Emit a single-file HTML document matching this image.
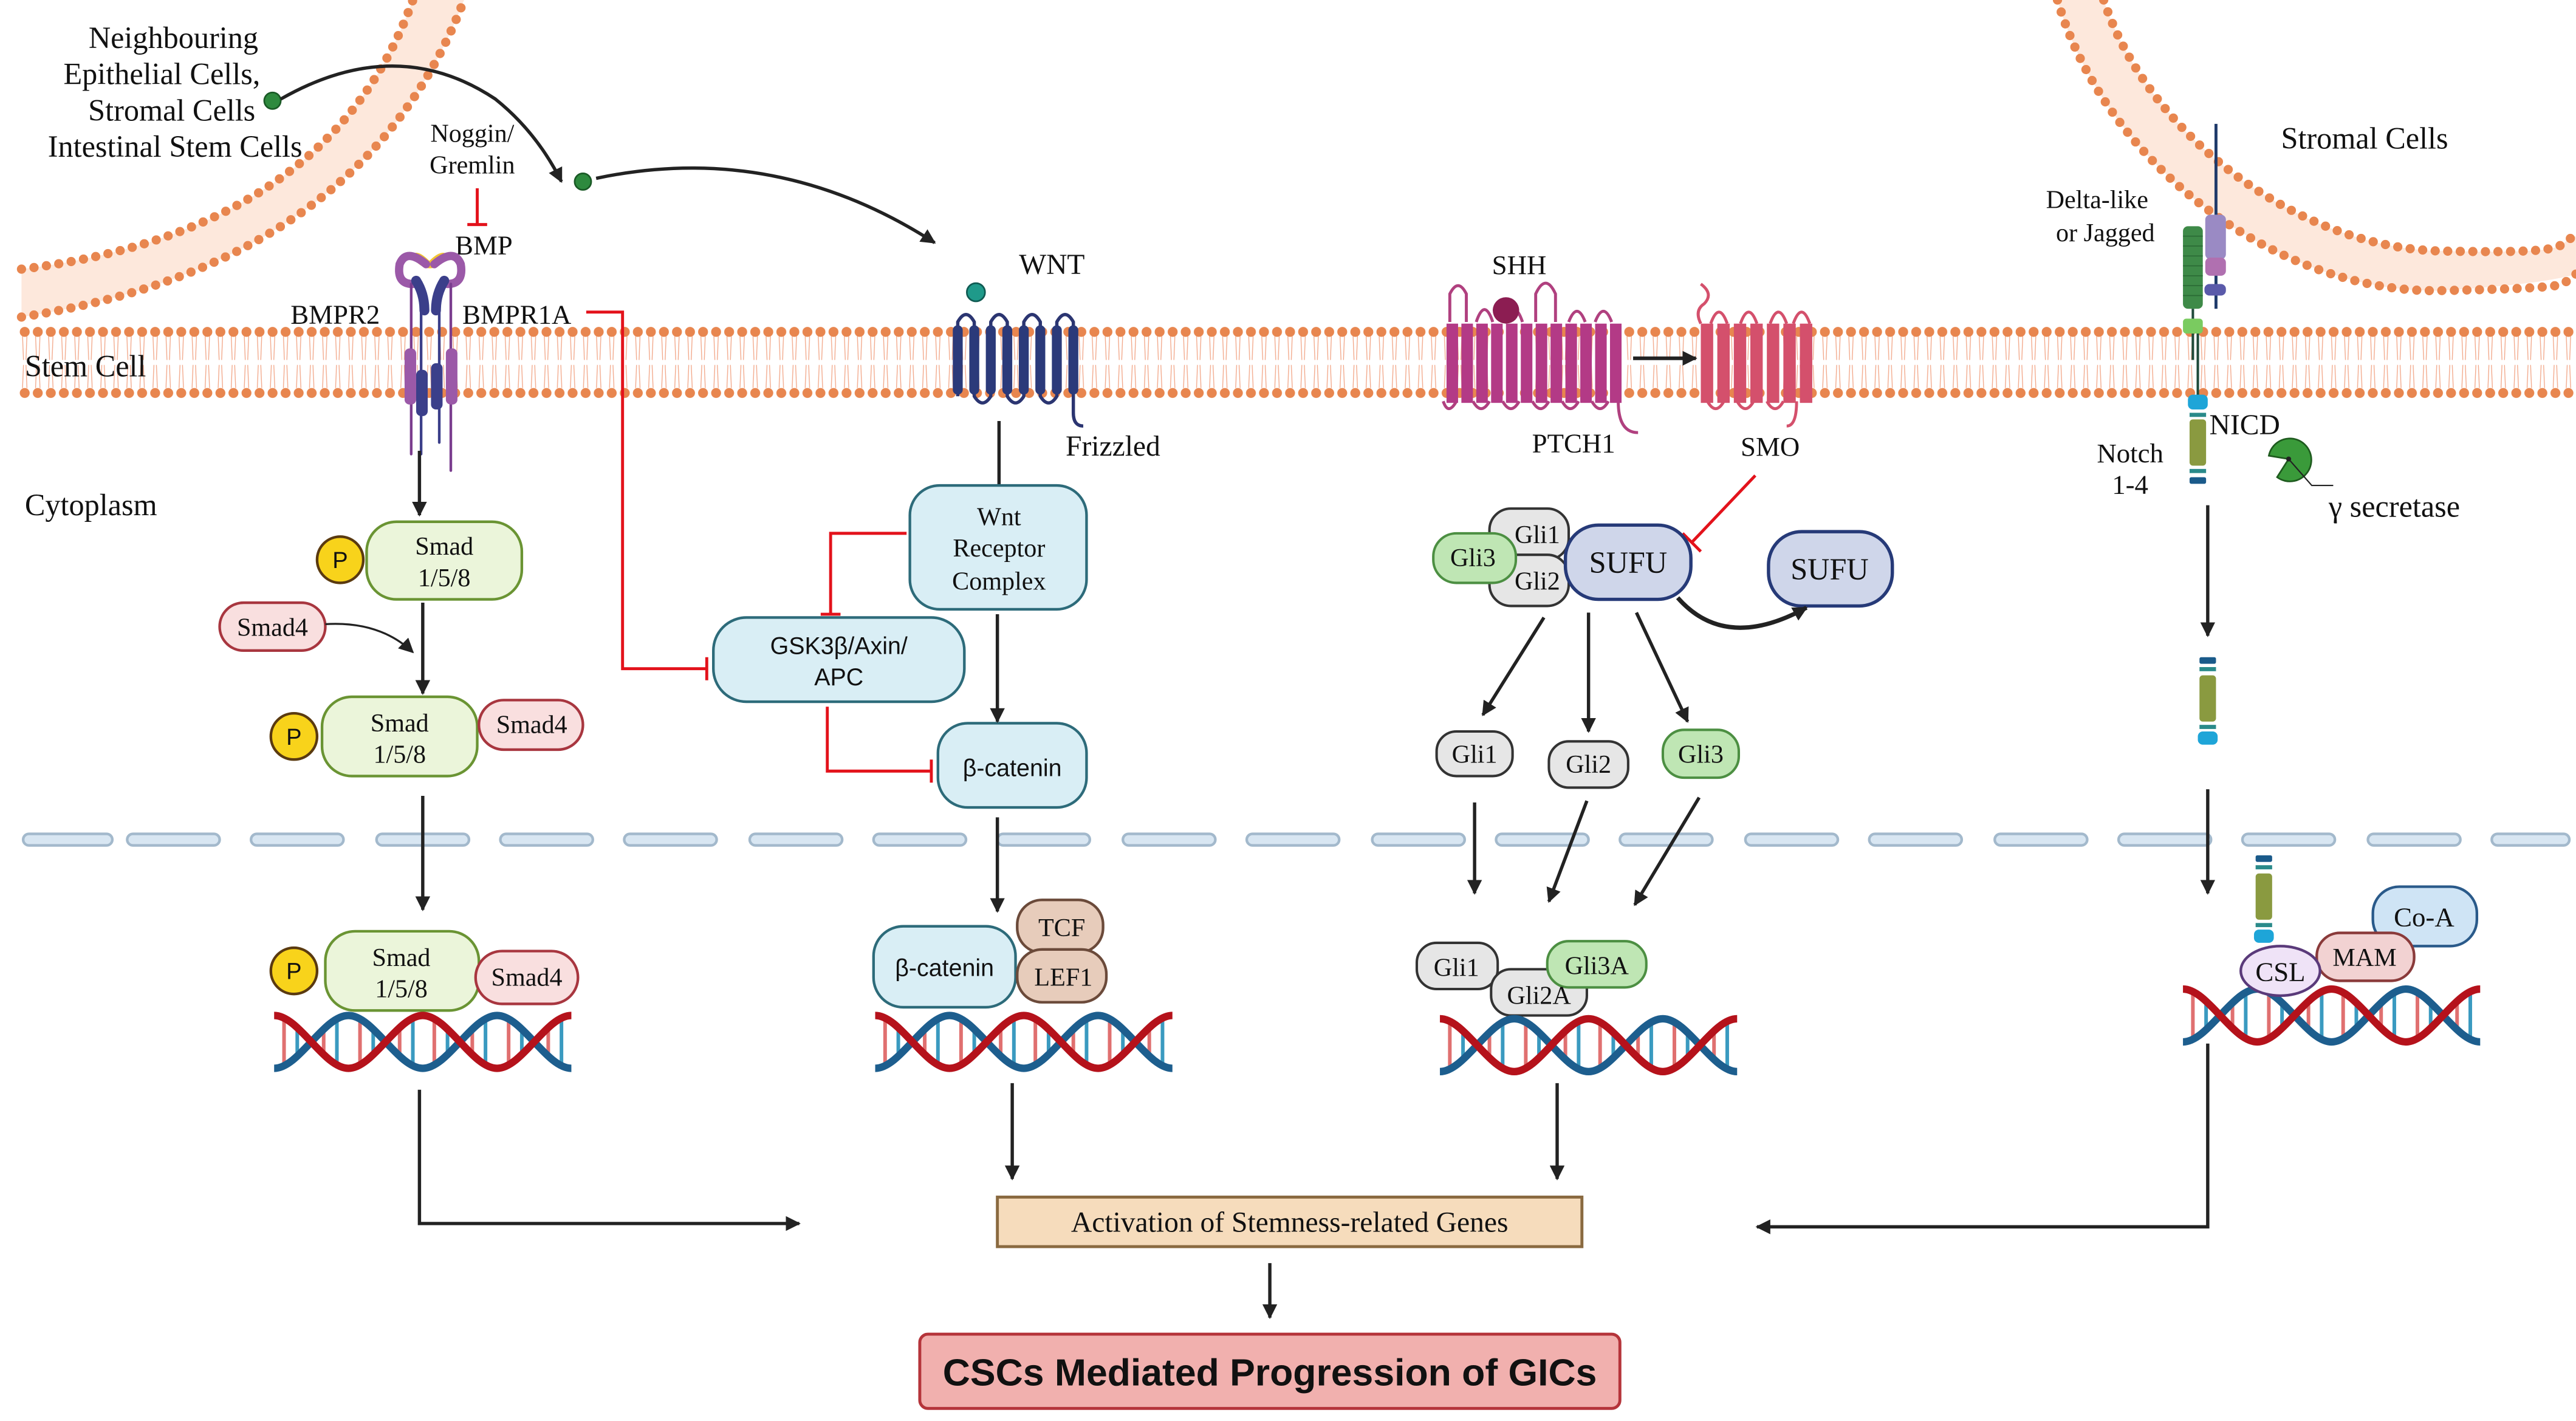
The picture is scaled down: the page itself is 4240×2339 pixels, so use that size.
<!DOCTYPE html>
<html><head><meta charset="utf-8"><style>
html,body{margin:0;padding:0;background:#fff;}
svg{display:block;}
text{font-family:"Liberation Serif",serif;fill:#111;}
.s{font-family:"Liberation Sans",sans-serif;}
</style></head><body>
<svg width="4240" height="2339" viewBox="0 0 1560 860.6" xmlns="http://www.w3.org/2000/svg">
<defs>
<marker id="ah" viewBox="0 0 10 10" refX="9" refY="5" markerWidth="9" markerHeight="9" markerUnits="userSpaceOnUse" orient="auto"><path d="M0,0 L10,5 L0,10 z" fill="#222"/></marker>
<pattern id="mem" patternUnits="userSpaceOnUse" x="11" y="195" width="7.9" height="50">
<line x1="2.6" y1="8" x2="3.2" y2="23" stroke="#f2a88a" stroke-width="0.5"/><line x1="5.3" y1="8" x2="4.7" y2="23" stroke="#f2a88a" stroke-width="0.5"/>
<line x1="2.6" y1="40" x2="3.2" y2="26" stroke="#f2a88a" stroke-width="0.5"/><line x1="5.3" y1="40" x2="4.7" y2="26" stroke="#f2a88a" stroke-width="0.5"/>
<circle cx="3.95" cy="6" r="3" fill="#e8864f"/><circle cx="3.95" cy="43" r="3" fill="#e8864f"/>
</pattern>
<g id="dna">
<g stroke-width="2.2">
<line x1="6" y1="6" x2="6" y2="32" stroke="#e07070"/><line x1="14" y1="10" x2="14" y2="28" stroke="#3a9ac0"/>
<line x1="30" y1="10" x2="30" y2="28" stroke="#e07070"/><line x1="38" y1="6" x2="38" y2="32" stroke="#3a9ac0"/>
<line x1="52" y1="6" x2="52" y2="32" stroke="#e07070"/><line x1="60" y1="10" x2="60" y2="28" stroke="#3a9ac0"/>
<line x1="76" y1="10" x2="76" y2="28" stroke="#e07070"/><line x1="84" y1="6" x2="84" y2="32" stroke="#3a9ac0"/>
<line x1="97" y1="6" x2="97" y2="32" stroke="#e07070"/><line x1="105" y1="10" x2="105" y2="28" stroke="#3a9ac0"/>
<line x1="120" y1="10" x2="120" y2="28" stroke="#e07070"/><line x1="128" y1="6" x2="128" y2="32" stroke="#3a9ac0"/>
<line x1="142" y1="6" x2="142" y2="32" stroke="#e07070"/><line x1="150" y1="10" x2="150" y2="28" stroke="#3a9ac0"/>
<line x1="166" y1="10" x2="166" y2="28" stroke="#e07070"/><line x1="174" y1="6" x2="174" y2="32" stroke="#3a9ac0"/>
</g>
<path d="M0,35 C15,35 30,3 45,3 C60,3 75,35 90,35 C105,35 120,3 135,3 C150,3 165,35 180,35" fill="none" stroke="#1d5e8e" stroke-width="4.5"/>
<path d="M0,3 C15,3 30,35 45,35 C60,35 75,3 90,3 C105,3 120,35 135,35 C150,35 165,3 180,3" fill="none" stroke="#b5121b" stroke-width="4.5"/>
</g>
</defs>

<!-- curved membranes -->
<path d="M13,163 Q200,140 250,0 L281,0 Q220,160 13,192 Z" fill="#fde8dc"/>
<path d="M13,163 Q200,140 250,0" fill="none" stroke="#e8864f" stroke-width="5.6" stroke-linecap="round" stroke-dasharray="0 7.6"/>
<path d="M13,192 Q220,160 281,0" fill="none" stroke="#e8864f" stroke-width="5.6" stroke-linecap="round" stroke-dasharray="0 7.6"/>
<path d="M1274,0 C1300,80 1390,150 1478,152 S1545,148 1560,143 L1560,166 S1545,172 1478,176 C1380,178 1275,100 1246,0 Z" fill="#fde8dc"/>
<path d="M1274,0 C1300,80 1390,150 1478,152 S1545,148 1560,143" fill="none" stroke="#e8864f" stroke-width="5.6" stroke-linecap="round" stroke-dasharray="0 7.6"/>
<path d="M1246,0 C1275,100 1380,178 1478,176 S1545,172 1560,166" fill="none" stroke="#e8864f" stroke-width="5.6" stroke-linecap="round" stroke-dasharray="0 7.6"/>

<!-- stem membrane -->
<rect x="11" y="195" width="1548" height="50" fill="url(#mem)"/>

<!-- nuclear membrane -->
<g fill="#d8e6f2" stroke="#a3b9cc" stroke-width="1.6">
<rect x="14" y="505" width="54" height="7" rx="3.5"/><rect x="77" y="505" width="56" height="7" rx="3.5"/><rect x="152" y="505" width="56" height="7" rx="3.5"/><rect x="228" y="505" width="56" height="7" rx="3.5"/><rect x="303" y="505" width="56" height="7" rx="3.5"/><rect x="378" y="505" width="56" height="7" rx="3.5"/><rect x="454" y="505" width="56" height="7" rx="3.5"/><rect x="529" y="505" width="56" height="7" rx="3.5"/><rect x="604" y="505" width="56" height="7" rx="3.5"/><rect x="680" y="505" width="56" height="7" rx="3.5"/><rect x="755" y="505" width="56" height="7" rx="3.5"/><rect x="831" y="505" width="56" height="7" rx="3.5"/><rect x="906" y="505" width="56" height="7" rx="3.5"/><rect x="981" y="505" width="56" height="7" rx="3.5"/><rect x="1057" y="505" width="56" height="7" rx="3.5"/><rect x="1132" y="505" width="56" height="7" rx="3.5"/><rect x="1208" y="505" width="56" height="7" rx="3.5"/><rect x="1283" y="505" width="56" height="7" rx="3.5"/><rect x="1358" y="505" width="56" height="7" rx="3.5"/><rect x="1434" y="505" width="56" height="7" rx="3.5"/><rect x="1509" y="505" width="47" height="7" rx="3.5"/>
</g>

<!-- labels top-left -->
<g font-size="18.5" text-anchor="middle">
<text x="105" y="29">Neighbouring</text>
<text x="98" y="51">Epithelial Cells,</text>
<text x="104" y="73">Stromal Cells</text>
<text x="106" y="95">Intestinal Stem Cells</text>
</g>
<text x="15" y="228" font-size="18.5">Stem Cell</text>
<text x="15" y="312" font-size="18.5">Cytoplasm</text>

<!-- ligand arrows -->
<circle cx="165" cy="61" r="5" fill="#2e8a3e" stroke="#1a5a26" stroke-width="1"/>
<path d="M170,60 Q240,20 300,60 Q325,80 340,110" fill="none" stroke="#222" stroke-width="2" marker-end="url(#ah)"/>
<circle cx="353" cy="110" r="5" fill="#2e8a3e" stroke="#1a5a26" stroke-width="1"/>
<path d="M361,108 Q470,85 566,147" fill="none" stroke="#222" stroke-width="2" marker-end="url(#ah)"/>

<text x="286" y="86" font-size="15.5" text-anchor="middle">Noggin/</text>
<text x="286" y="105" font-size="15.5" text-anchor="middle">Gremlin</text>
<path d="M289,114 L289,136 M283,136 L295,136" stroke="#e3121b" stroke-width="1.8" fill="none"/>
<text x="293" y="154" font-size="16.5" text-anchor="middle">BMP</text>
<path d="M249,155 Q260,170 272,155 Q268,150 260,158 Q252,150 249,155 Z" fill="#f2c531"/>

<!-- BMP receptors -->
<g fill="none" stroke-linecap="round">
<path d="M258,160 Q246,150 242,160 Q240,172 250,172" stroke="#9b59a8" stroke-width="5"/>
<path d="M263,160 Q275,150 279,160 Q281,172 271,172" stroke="#9b59a8" stroke-width="5"/>
<path d="M249,172 L249,275 M273,172 L273,285" stroke="#7a3d8e" stroke-width="1.6"/>
<path d="M255,172 L255,275 M266,172 L266,268" stroke="#3b3f8a" stroke-width="1.6"/>
<path d="M252,170 Q257,178 257,188" stroke="#3b3f8a" stroke-width="6"/>
<path d="M269,170 Q264,178 264,188" stroke="#3b3f8a" stroke-width="6"/>
</g>
<rect x="245" y="211" width="7" height="34" rx="3" fill="#9b59a8"/>
<rect x="270" y="211" width="7" height="34" rx="3" fill="#9b59a8"/>
<rect x="252" y="224" width="7" height="28" rx="3" fill="#3b3f8a"/>
<rect x="261" y="220" width="7" height="28" rx="3" fill="#3b3f8a"/>
<text x="203" y="196" font-size="16.5" text-anchor="middle">BMPR2</text>
<text x="313" y="196" font-size="16.5" text-anchor="middle">BMPR1A</text>
<path d="M355,189 L377,189 L377,405 L428,405 M428,398 L428,412" stroke="#e3121b" stroke-width="1.8" fill="none"/>

<!-- Smad column -->
<line x1="254" y1="273" x2="254" y2="312" stroke="#222" stroke-width="2" marker-end="url(#ah)"/>
<g stroke-width="1.6">
<circle cx="206" cy="339" r="14" fill="#f8d31b" stroke="#5a3a10"/>
<rect x="222" y="316" width="94" height="47" rx="18" fill="#ebf5da" stroke="#6a9433"/>
<rect x="133" y="365" width="64" height="29" rx="14.5" fill="#f9dfdf" stroke="#a8363f"/>
<circle cx="178" cy="446" r="14" fill="#f8d31b" stroke="#5a3a10"/>
<rect x="195" y="422" width="94" height="48" rx="18" fill="#ebf5da" stroke="#6a9433"/>
<rect x="290" y="424" width="63" height="30" rx="15" fill="#f9dfdf" stroke="#a8363f"/>
<circle cx="178" cy="588" r="14" fill="#f8d31b" stroke="#5a3a10"/>
<rect x="197" y="564" width="93" height="48" rx="18" fill="#ebf5da" stroke="#6a9433"/>
<rect x="288" y="576" width="62" height="32" rx="16" fill="#f9dfdf" stroke="#a8363f"/>
</g>
<g font-size="15.5" text-anchor="middle">
<text x="206" y="344" class="s" font-size="14">P</text>
<text x="269" y="336">Smad</text><text x="269" y="355">1/5/8</text>
<text x="165" y="385">Smad4</text>
<text x="178" y="451" class="s" font-size="14">P</text>
<text x="242" y="443">Smad</text><text x="242" y="462">1/5/8</text>
<text x="322" y="444">Smad4</text>
<text x="178" y="593" class="s" font-size="14">P</text>
<text x="243" y="585">Smad</text><text x="243" y="604">1/5/8</text>
<text x="319" y="597">Smad4</text>
</g>
<path d="M197,378 Q230,376 250,395" fill="none" stroke="#222" stroke-width="1.2" marker-end="url(#ah)"/>
<line x1="256" y1="365" x2="256" y2="420" stroke="#222" stroke-width="2" marker-end="url(#ah)"/>
<line x1="256" y1="482" x2="256" y2="551" stroke="#222" stroke-width="2" marker-end="url(#ah)"/>
<use href="#dna" x="166" y="612"/>
<path d="M254,660 L254,741 L484,741" fill="none" stroke="#222" stroke-width="2" marker-end="url(#ah)"/>

<!-- WNT -->
<circle cx="591" cy="177" r="5.5" fill="#1f9a8a" stroke="#0f5a52" stroke-width="1"/>
<text x="637" y="166" font-size="17.5" text-anchor="middle">WNT</text>
<path d="M580,240 L580,195 Q585,186 590,195 L590,240 Q595,248 600,240 L600,195 Q605,186 610,195 L610,240 Q615,248 620,240 L620,195 Q625,186 630,195 L630,240 Q635,248 640,240 L640,195 Q645,186 650,195 L650,250 Q650,258 656,258" fill="none" stroke="#2b3571" stroke-width="2"/>
<g fill="#2b3a7a"><rect x="577" y="197" width="6" height="42" rx="3"/><rect x="587" y="197" width="6" height="42" rx="3"/><rect x="597" y="197" width="6" height="42" rx="3"/><rect x="607" y="197" width="6" height="42" rx="3"/><rect x="617" y="197" width="6" height="42" rx="3"/><rect x="627" y="197" width="6" height="42" rx="3"/><rect x="637" y="197" width="6" height="42" rx="3"/><rect x="647" y="197" width="6" height="42" rx="3"/></g>
<text x="674" y="276" font-size="17.5" text-anchor="middle">Frizzled</text>
<line x1="605" y1="255" x2="605" y2="294" stroke="#222" stroke-width="2"/>
<g fill="#d9eef5" stroke="#2d6b7a" stroke-width="1.6">
<rect x="551" y="294" width="107" height="75" rx="18"/>
<rect x="432" y="374" width="152" height="51" rx="20"/>
<rect x="568" y="438" width="90" height="51" rx="18"/>
<rect x="529" y="561" width="86" height="49" rx="18"/>
</g>
<g font-size="15.5" text-anchor="middle">
<text x="605" y="318">Wnt</text><text x="605" y="337">Receptor</text><text x="605" y="357">Complex</text>
<text x="508" y="396" class="s" font-size="14.5">GSK3β/Axin/</text><text x="508" y="415" class="s" font-size="14.5">APC</text>
<text x="613" y="470" class="s" font-size="14.5">β-catenin</text>
<text x="572" y="591" class="s" font-size="14.5">β-catenin</text>
</g>
<path d="M549,323 L503,323 L503,372 M497,372 L509,372" fill="none" stroke="#e3121b" stroke-width="1.8"/>
<path d="M501,428 L501,467 L564,467 M564,460 L564,474" fill="none" stroke="#e3121b" stroke-width="1.8"/>
<line x1="604" y1="372" x2="604" y2="437" stroke="#222" stroke-width="2" marker-end="url(#ah)"/>
<line x1="604" y1="495" x2="604" y2="552" stroke="#222" stroke-width="2" marker-end="url(#ah)"/>
<g fill="#e7ccbb" stroke="#6b4a3a" stroke-width="1.6">
<rect x="616" y="545" width="52" height="32" rx="15"/>
<rect x="616" y="575" width="54" height="32" rx="15"/>
</g>
<text x="643" y="567" font-size="15.5" text-anchor="middle">TCF</text>
<text x="644" y="597" font-size="15.5" text-anchor="middle">LEF1</text>
<use href="#dna" x="530" y="612"/>
<line x1="613" y1="656" x2="613" y2="714" stroke="#222" stroke-width="2" marker-end="url(#ah)"/>

<!-- SHH -->
<g fill="none" stroke="#b0407f" stroke-width="1.8">
<path d="M878,195 L878,178 Q883,168 888,178 L888,195 M894,195 Q899,180 904,195 M912,195 Q917,180 922,195 M930,195 L930,178 Q936,165 942,178 L942,195 M950,195 Q955,182 960,195 M966,195 Q971,182 976,195"/>
<path d="M874,243 Q877,252 882,243 M892,243 Q897,252 902,243 M910,243 Q915,252 920,243 M928,243 Q933,252 938,243 M946,243 Q951,252 956,243 M964,243 Q969,252 974,243 M980,243 Q980,262 992,262"/>
</g>
<g fill="#b33a86"><rect x="876" y="196" width="7" height="48"/><rect x="885" y="196" width="7" height="48"/><rect x="894" y="196" width="7" height="48"/><rect x="903" y="196" width="7" height="48"/><rect x="912" y="196" width="7" height="48"/><rect x="921" y="196" width="7" height="48"/><rect x="930" y="196" width="7" height="48"/><rect x="939" y="196" width="7" height="48"/><rect x="948" y="196" width="7" height="48"/><rect x="957" y="196" width="7" height="48"/><rect x="966" y="196" width="7" height="48"/><rect x="975" y="196" width="7" height="48"/></g>
<circle cx="912" cy="188" r="8" fill="#8c1d52"/>
<text x="920" y="166" font-size="16.5" text-anchor="middle">SHH</text>
<text x="953" y="274" font-size="16.5" text-anchor="middle">PTCH1</text>
<line x1="989" y1="217" x2="1027" y2="217" stroke="#222" stroke-width="2.2" marker-end="url(#ah)"/>
<g fill="none" stroke="#d4506c" stroke-width="1.8">
<path d="M1030,196 Q1026,188 1032,184 Q1038,178 1030,172 M1036,196 Q1041,182 1046,196 M1054,196 Q1059,182 1064,196 M1072,196 Q1077,182 1082,196 M1086,196 Q1091,182 1096,196"/>
<path d="M1034,243 Q1039,252 1044,243 M1052,243 Q1057,252 1062,243 M1070,243 Q1075,252 1080,243 M1088,243 Q1088,258 1082,258"/>
</g>
<g fill="#d4506c"><rect x="1030" y="196" width="7.5" height="48"/><rect x="1040" y="196" width="7.5" height="48"/><rect x="1050" y="196" width="7.5" height="48"/><rect x="1060" y="196" width="7.5" height="48"/><rect x="1070" y="196" width="7.5" height="48"/><rect x="1080" y="196" width="7.5" height="48"/><rect x="1090" y="196" width="7.5" height="48"/></g>
<text x="1072" y="276" font-size="16.5" text-anchor="middle">SMO</text>
<path d="M1063,288 L1025,328 M1019,323 L1030,334" fill="none" stroke="#e3121b" stroke-width="1.8"/>

<g stroke-width="1.5">
<rect x="902" y="308" width="48" height="31" rx="13" fill="#e6e6e6" stroke="#333"/>
<rect x="902" y="336" width="48" height="31" rx="13" fill="#e6e6e6" stroke="#333"/>
<rect x="868" y="323" width="50" height="30" rx="14" fill="#bfe6b4" stroke="#4c8f42"/>
<rect x="948" y="318" width="76" height="45" rx="20" fill="#cfd6ea" stroke="#263a78" stroke-width="2"/>
<rect x="1071" y="322" width="75" height="45" rx="20" fill="#cfd6ea" stroke="#263a78" stroke-width="2"/>
<rect x="870" y="443" width="46" height="27" rx="12" fill="#e6e6e6" stroke="#333"/>
<rect x="938" y="449" width="48" height="28" rx="12" fill="#e6e6e6" stroke="#333"/>
<rect x="1007" y="442" width="46" height="29" rx="13" fill="#bfe6b4" stroke="#4c8f42"/>
<rect x="858" y="571" width="49" height="28" rx="12" fill="#e6e6e6" stroke="#333"/>
<rect x="903" y="587" width="58" height="28" rx="12" fill="#e6e6e6" stroke="#333"/>
<rect x="937" y="570" width="60" height="28" rx="13" fill="#bfe6b4" stroke="#4c8f42"/>
</g>
<g font-size="15.5" text-anchor="middle">
<text x="931" y="329">Gli1</text><text x="931" y="357">Gli2</text><text x="892" y="343">Gli3</text>
<text x="986" y="347" font-size="18.5">SUFU</text><text x="1108" y="351" font-size="18.5">SUFU</text>
<text x="893" y="462">Gli1</text><text x="962" y="468">Gli2</text><text x="1030" y="462">Gli3</text>
<text x="882" y="591">Gli1</text><text x="932" y="608">Gli2A</text><text x="967" y="590">Gli3A</text>
</g>
<path d="M1016,362 Q1045,395 1094,368" fill="none" stroke="#222" stroke-width="2.6" marker-end="url(#ah)"/>
<line x1="935" y1="374" x2="898" y2="433" stroke="#222" stroke-width="2" marker-end="url(#ah)"/>
<line x1="962" y1="371" x2="962" y2="443" stroke="#222" stroke-width="2" marker-end="url(#ah)"/>
<line x1="991" y1="371" x2="1022" y2="437" stroke="#222" stroke-width="2" marker-end="url(#ah)"/>
<line x1="893" y1="486" x2="893" y2="541" stroke="#222" stroke-width="2" marker-end="url(#ah)"/>
<line x1="961" y1="485" x2="938" y2="546" stroke="#222" stroke-width="2" marker-end="url(#ah)"/>
<line x1="1029" y1="483" x2="990" y2="548" stroke="#222" stroke-width="2" marker-end="url(#ah)"/>
<use href="#dna" x="872" y="614"/>
<line x1="943" y1="656" x2="943" y2="714" stroke="#222" stroke-width="2" marker-end="url(#ah)"/>

<!-- Notch -->
<line x1="1342" y1="75" x2="1342" y2="187" stroke="#1f3a6a" stroke-width="1.8"/>
<rect x="1335.5" y="130" width="12.5" height="27" rx="3" fill="#9a8ac4"/>
<rect x="1335.5" y="156" width="12.5" height="11" rx="3" fill="#b070b0"/>
<rect x="1335" y="172" width="13" height="7" rx="3" fill="#5a5aaa"/>
<rect x="1322" y="137" width="12" height="50" rx="3" fill="#3e8a48"/>
<g stroke="#2a6a34" stroke-width="0.6"><line x1="1322" y1="143" x2="1334" y2="143"/><line x1="1322" y1="149" x2="1334" y2="149"/><line x1="1322" y1="155" x2="1334" y2="155"/><line x1="1322" y1="161" x2="1334" y2="161"/><line x1="1322" y1="167" x2="1334" y2="167"/><line x1="1322" y1="173" x2="1334" y2="173"/><line x1="1322" y1="179" x2="1334" y2="179"/></g>
<line x1="1328" y1="187" x2="1328" y2="218" stroke="#1f4a3a" stroke-width="1.5"/>
<line x1="1331" y1="200" x2="1331" y2="240" stroke="#1f4a3a" stroke-width="1.5"/>
<rect x="1322" y="193" width="12" height="9" rx="2" fill="#7acb60"/>
<rect x="1325" y="239" width="12" height="9" rx="3" fill="#1ea5d8"/>
<rect x="1326" y="250" width="10" height="2.5" fill="#2a8a8a"/>
<rect x="1326" y="254" width="10" height="28" rx="2" fill="#8a9a40"/>
<rect x="1326" y="284" width="10" height="2.5" fill="#2a8a8a"/>
<rect x="1326" y="289" width="10" height="4" rx="1" fill="#1a5a8a"/>
<text x="1338" y="263" font-size="17.5">NICD</text>
<text x="1290" y="280" font-size="16.5" text-anchor="middle">Notch</text>
<text x="1290" y="299" font-size="16.5" text-anchor="middle">1-4</text>
<path d="M1386,278 L1374,276 A13,13 0 1 1 1379,289 Z" fill="#3a9a3a" stroke="#1e5a1e" stroke-width="1"/>
<path d="M1386,278 L1400,294 L1413,294" fill="none" stroke="#222" stroke-width="0.8"/>
<circle cx="1386" cy="278" r="1.5" fill="#222"/>
<text x="1450" y="313" font-size="18.5" text-anchor="middle">γ secretase</text>
<text x="1270" y="126" font-size="15.5" text-anchor="middle">Delta-like</text>
<text x="1275" y="146" font-size="15.5" text-anchor="middle">or Jagged</text>
<text x="1432" y="90" font-size="18.5" text-anchor="middle">Stromal Cells</text>
<line x1="1337" y1="306" x2="1337" y2="385" stroke="#222" stroke-width="2" marker-end="url(#ah)"/>
<g>
<rect x="1332" y="398" width="10" height="4" rx="1" fill="#1a5a8a"/>
<rect x="1332" y="404" width="10" height="2.5" fill="#2a8a8a"/>
<rect x="1332" y="409" width="10" height="28" rx="2" fill="#8a9a40"/>
<rect x="1332" y="439" width="10" height="2.5" fill="#2a8a8a"/>
<rect x="1331" y="443" width="12" height="8" rx="3" fill="#1ea5d8"/>
</g>
<line x1="1337" y1="478" x2="1337" y2="541" stroke="#222" stroke-width="2" marker-end="url(#ah)"/>
<g>
<rect x="1366" y="518" width="10" height="4" rx="1" fill="#1a5a8a"/>
<rect x="1366" y="524" width="10" height="2.5" fill="#2a8a8a"/>
<rect x="1366" y="529" width="10" height="28" rx="2" fill="#8a9a40"/>
<rect x="1366" y="559" width="10" height="2.5" fill="#2a8a8a"/>
<rect x="1365" y="563" width="12" height="8" rx="3" fill="#1ea5d8"/>
</g>
<use href="#dna" x="1322" y="596"/>
<g stroke-width="1.6">
<rect x="1437" y="537" width="63" height="36" rx="16" fill="#cfe4f5" stroke="#2a5a8a"/>
<rect x="1403" y="565" width="59" height="29" rx="14" fill="#f2d2d2" stroke="#8a3a3a"/>
<ellipse cx="1381" cy="588" rx="24" ry="15" fill="#efe3f7" stroke="#5a3a7a"/>
</g>
<text x="1468" y="561" font-size="16.5" text-anchor="middle">Co-A</text>
<text x="1432" y="585" font-size="15.5" text-anchor="middle">MAM</text>
<text x="1381" y="594" font-size="16.5" text-anchor="middle">CSL</text>
<path d="M1337,632 L1337,743 L1064,743" fill="none" stroke="#222" stroke-width="2" marker-end="url(#ah)"/>

<!-- bottom boxes -->
<rect x="604" y="725" width="354" height="30" fill="#f6dcbc" stroke="#8a6a40" stroke-width="1.8"/>
<text x="781" y="746" font-size="17.5" text-anchor="middle">Activation of Stemness-related Genes</text>
<line x1="769" y1="765" x2="769" y2="798" stroke="#222" stroke-width="2" marker-end="url(#ah)"/>
<rect x="557" y="808" width="424" height="45" rx="5" fill="#f1b0ae" stroke="#b5343a" stroke-width="1.8"/>
<text x="769" y="839" font-size="23" font-weight="bold" text-anchor="middle" class="s">CSCs Mediated Progression of GICs</text>
</svg>
</body></html>
